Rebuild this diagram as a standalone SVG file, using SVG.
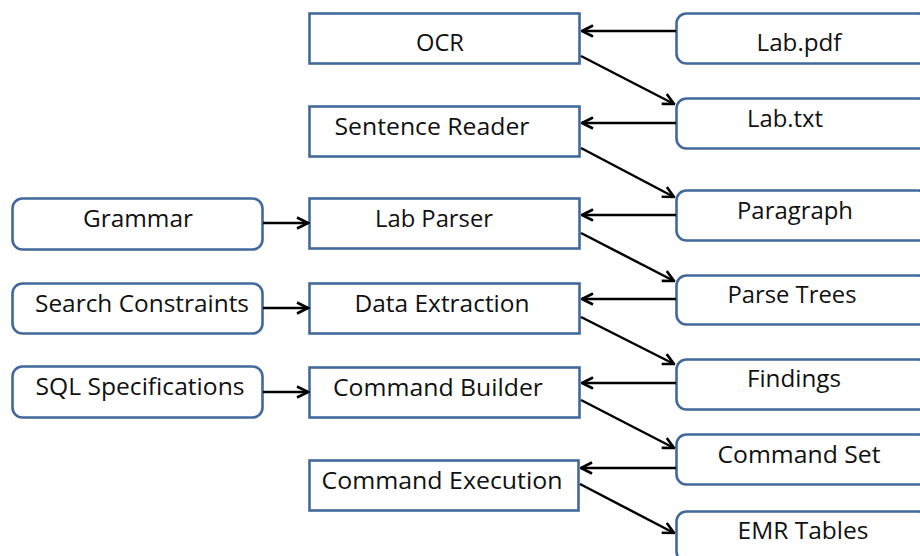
<svg xmlns="http://www.w3.org/2000/svg" width="920" height="556" viewBox="0 0 920 556">
  <style>
    .proc rect { fill: #ffffff; stroke: #41699b; stroke-width: 2.6; }
    .data rect { fill: #ffffff; stroke: #41699b; stroke-width: 2.6; }
    text { font-family: "Open Sans", "Liberation Sans", sans-serif; font-size: 23px; fill: #111111; text-anchor: middle; }
    #connectors line { stroke: #000000; stroke-width: 2.5; marker-end: url(#chev); }
  </style>
  <defs>
    <marker id="chev" viewBox="0 0 14 14" refX="12.5" refY="7" markerWidth="14" markerHeight="14" markerUnits="userSpaceOnUse" orient="auto">
      <path d="M1.5,1.5 L12.5,7 L1.5,12.5" fill="none" stroke="#000000" stroke-width="2.6" stroke-linejoin="miter"/>
    </marker>
  </defs>
  <rect width="920" height="556" fill="#ffffff"/>

  <!-- processing steps (middle column) -->
  <g id="ocr" class="proc"><rect x="309.5" y="13.5" width="270" height="50"/><text x="440" y="51" textLength="48" lengthAdjust="spacingAndGlyphs">OCR</text></g>
  <g id="sentence-reader" class="proc"><rect x="309.5" y="106.5" width="270" height="50"/><text x="432" y="135" textLength="195" lengthAdjust="spacingAndGlyphs">Sentence Reader</text></g>
  <g id="lab-parser" class="proc"><rect x="309.5" y="198.5" width="270" height="50"/><text x="434" y="227" textLength="118" lengthAdjust="spacingAndGlyphs">Lab Parser</text></g>
  <g id="data-extraction" class="proc"><rect x="309.5" y="283.5" width="270" height="50"/><text x="442" y="312" textLength="175" lengthAdjust="spacingAndGlyphs">Data Extraction</text></g>
  <g id="command-builder" class="proc"><rect x="309.5" y="367.5" width="270" height="50"/><text x="438" y="396" textLength="210" lengthAdjust="spacingAndGlyphs">Command Builder</text></g>
  <g id="command-execution" class="proc"><rect x="309.5" y="460.5" width="269" height="50"/><text x="442" y="489" textLength="241" lengthAdjust="spacingAndGlyphs">Command Execution</text></g>

  <!-- inputs (left column) -->
  <g id="grammar" class="data"><rect x="12.5" y="198.5" width="250" height="51" rx="10"/><text x="138" y="227" textLength="110" lengthAdjust="spacingAndGlyphs">Grammar</text></g>
  <g id="search-constraints" class="data"><rect x="12.5" y="283.5" width="250" height="50" rx="10"/><text x="142" y="312" textLength="214" lengthAdjust="spacingAndGlyphs">Search Constraints</text></g>
  <g id="sql-specifications" class="data"><rect x="12.5" y="366.5" width="250" height="51" rx="10"/><text x="140" y="395" textLength="209" lengthAdjust="spacingAndGlyphs">SQL Specifications</text></g>

  <!-- artifacts (right column) -->
  <g id="lab-pdf" class="data"><rect x="676.5" y="13.5" width="252" height="50" rx="10"/><text x="799" y="51" textLength="85" lengthAdjust="spacingAndGlyphs">Lab.pdf</text></g>
  <g id="lab-txt" class="data"><rect x="676.5" y="98.5" width="252" height="50" rx="10"/><text x="785" y="127" textLength="76" lengthAdjust="spacingAndGlyphs">Lab.txt</text></g>
  <g id="paragraph" class="data"><rect x="676.5" y="190.5" width="252" height="50" rx="10"/><text x="795" y="219" textLength="116" lengthAdjust="spacingAndGlyphs">Paragraph</text></g>
  <g id="parse-trees" class="data"><rect x="676.5" y="275.5" width="252" height="49" rx="10"/><text x="792" y="303" textLength="129" lengthAdjust="spacingAndGlyphs">Parse Trees</text></g>
  <g id="findings" class="data"><rect x="676.5" y="359.5" width="252" height="50" rx="10"/><text x="794" y="387" textLength="94" lengthAdjust="spacingAndGlyphs">Findings</text></g>
  <g id="command-set" class="data"><rect x="676.5" y="434.5" width="252" height="50" rx="10"/><text x="799" y="463" textLength="163" lengthAdjust="spacingAndGlyphs">Command Set</text></g>
  <g id="emr-tables" class="data"><rect x="676.5" y="511.5" width="252" height="50" rx="10"/><text x="803" y="539" textLength="131" lengthAdjust="spacingAndGlyphs">EMR Tables</text></g>

  <!-- connectors -->
  <g id="connectors">
    <line x1="676" y1="31" x2="582" y2="31"/>
    <line x1="581" y1="56" x2="674" y2="104"/>
    <line x1="676" y1="123" x2="582" y2="123"/>
    <line x1="581" y1="148" x2="674" y2="197"/>
    <line x1="263" y1="223" x2="308" y2="223"/>
    <line x1="676" y1="215" x2="582" y2="215"/>
    <line x1="581" y1="233" x2="674" y2="281"/>
    <line x1="263" y1="308" x2="308" y2="308"/>
    <line x1="676" y1="299" x2="582" y2="299"/>
    <line x1="581" y1="317" x2="674" y2="364"/>
    <line x1="263" y1="392" x2="308" y2="392"/>
    <line x1="676" y1="383" x2="582" y2="383"/>
    <line x1="581" y1="400" x2="674" y2="448"/>
    <line x1="676" y1="468" x2="581" y2="468"/>
    <line x1="580" y1="484" x2="674" y2="533"/>
  </g>
</svg>
